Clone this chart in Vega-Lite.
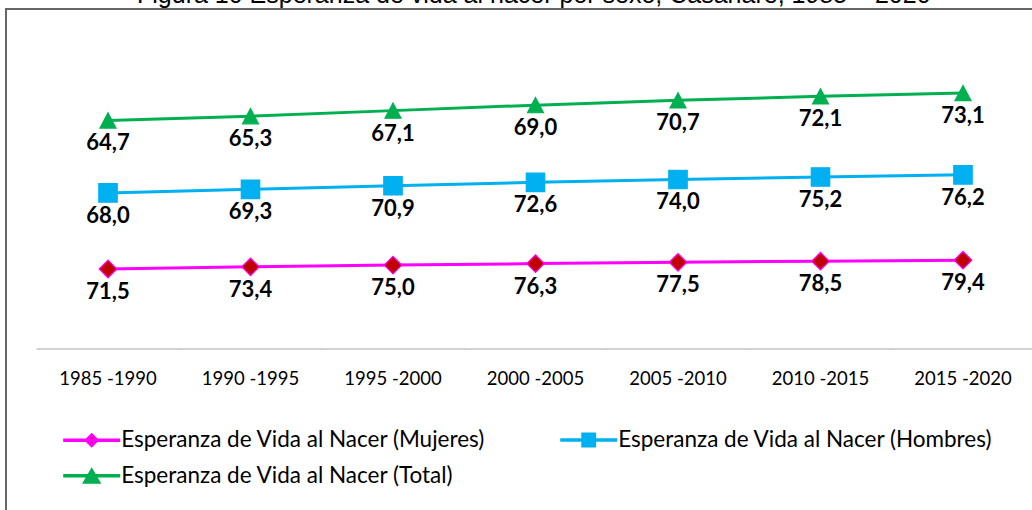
{
  "$schema": "https://vega.github.io/schema/vega-lite/v6.json",
  "autosize": {"type": "none"},
  "padding": {"left": 6, "top": 9, "right": 0, "bottom": 0},
  "width": 1059,
  "height": 521,
  "background": "white",
  "config": {
    "view": {"stroke": "#666666", "strokeWidth": 2},
    "locale": {"number": {"decimal": ",", "thousands": ".", "grouping": [3], "currency": ["$", ""]}}
  },
  "title": {
    "text": "Figura 10 Esperanza de vida al nacer por sexo, Casanare, 1985 – 2020",
    "font": "Liberation Sans",
    "fontSize": 25,
    "fontWeight": "normal",
    "color": "#000000",
    "anchor": "start",
    "frame": "group",
    "dx": 131,
    "dy": 19,
    "offset": 0,
    "baseline": "alphabetic"
  },
  "data": {
    "values": [
      {"periodo": "1985 -1990", "serie": "Esperanza de Vida al Nacer (Mujeres)", "orden": 1, "valor": 71.5},
      {"periodo": "1990 -1995", "serie": "Esperanza de Vida al Nacer (Mujeres)", "orden": 1, "valor": 73.4},
      {"periodo": "1995 -2000", "serie": "Esperanza de Vida al Nacer (Mujeres)", "orden": 1, "valor": 75.0},
      {"periodo": "2000 -2005", "serie": "Esperanza de Vida al Nacer (Mujeres)", "orden": 1, "valor": 76.3},
      {"periodo": "2005 -2010", "serie": "Esperanza de Vida al Nacer (Mujeres)", "orden": 1, "valor": 77.5},
      {"periodo": "2010 -2015", "serie": "Esperanza de Vida al Nacer (Mujeres)", "orden": 1, "valor": 78.5},
      {"periodo": "2015 -2020", "serie": "Esperanza de Vida al Nacer (Mujeres)", "orden": 1, "valor": 79.4},
      {"periodo": "1985 -1990", "serie": "Esperanza de Vida al Nacer (Hombres)", "orden": 2, "valor": 68.0},
      {"periodo": "1990 -1995", "serie": "Esperanza de Vida al Nacer (Hombres)", "orden": 2, "valor": 69.3},
      {"periodo": "1995 -2000", "serie": "Esperanza de Vida al Nacer (Hombres)", "orden": 2, "valor": 70.9},
      {"periodo": "2000 -2005", "serie": "Esperanza de Vida al Nacer (Hombres)", "orden": 2, "valor": 72.6},
      {"periodo": "2005 -2010", "serie": "Esperanza de Vida al Nacer (Hombres)", "orden": 2, "valor": 74.0},
      {"periodo": "2010 -2015", "serie": "Esperanza de Vida al Nacer (Hombres)", "orden": 2, "valor": 75.2},
      {"periodo": "2015 -2020", "serie": "Esperanza de Vida al Nacer (Hombres)", "orden": 2, "valor": 76.2},
      {"periodo": "1985 -1990", "serie": "Esperanza de Vida al Nacer (Total)", "orden": 3, "valor": 64.7},
      {"periodo": "1990 -1995", "serie": "Esperanza de Vida al Nacer (Total)", "orden": 3, "valor": 65.3},
      {"periodo": "1995 -2000", "serie": "Esperanza de Vida al Nacer (Total)", "orden": 3, "valor": 67.1},
      {"periodo": "2000 -2005", "serie": "Esperanza de Vida al Nacer (Total)", "orden": 3, "valor": 69.0},
      {"periodo": "2005 -2010", "serie": "Esperanza de Vida al Nacer (Total)", "orden": 3, "valor": 70.7},
      {"periodo": "2010 -2015", "serie": "Esperanza de Vida al Nacer (Total)", "orden": 3, "valor": 72.1},
      {"periodo": "2015 -2020", "serie": "Esperanza de Vida al Nacer (Total)", "orden": 3, "valor": 73.1}
    ]
  },
  "transform": [
    {"stack": "valor", "groupby": ["periodo"], "sort": [{"field": "orden", "order": "ascending"}], "as": ["y0", "y1"]}
  ],
  "encoding": {
    "x": {
      "field": "periodo",
      "type": "nominal",
      "sort": null,
      "scale": {
        "type": "band",
        "domain": ["1985 -1990", "1990 -1995", "1995 -2000", "2000 -2005", "2005 -2010", "2010 -2015", "2015 -2020"],
        "paddingInner": 0,
        "paddingOuter": 0.2158
      },
      "axis": {
        "orient": "bottom",
        "offset": -181,
        "domain": false,
        "ticks": false,
        "grid": false,
        "title": null,
        "labelAngle": 0,
        "labelPadding": 20,
        "labelFont": "Lato",
        "labelFontSize": 18.5,
        "labelColor": "#000000"
      }
    },
    "y": {
      "field": "y1",
      "type": "quantitative",
      "scale": {"domain": [-161.7, 303.8], "nice": false, "zero": false},
      "axis": null
    }
  },
  "layer": [
    {
      "transform": [{"filter": "datum.orden == 1"}],
      "mark": {"type": "tick", "orient": "horizontal", "size": 143, "thickness": 1, "color": "#A6A6A6", "opacity": 1},
      "encoding": {
        "y": {"datum": 0, "type": "quantitative"}
      }
    },
    {
      "mark": {"type": "line", "strokeWidth": 3},
      "encoding": {
        "color": {
          "field": "serie",
          "type": "nominal",
          "scale": {
            "domain": ["Esperanza de Vida al Nacer (Mujeres)", "Esperanza de Vida al Nacer (Hombres)", "Esperanza de Vida al Nacer (Total)"],
            "range": ["#FF00FF", "#00B0F0", "#00B050"]
          },
          "legend": {
            "title": null,
            "orient": "none",
            "direction": "horizontal",
            "legendX": 73.2,
            "legendY": 418.2,
            "columns": 2,
            "padding": 0,
            "symbolSize": 467,
            "symbolStrokeWidth": 3,
            "labelFont": "Lato",
            "labelFontSize": 22.5,
            "labelColor": "#000000",
            "labelOffset": 17,
            "labelLimit": 0,
            "rowPadding": 11,
            "columnPadding": 69,
            "encode": {
              "symbols": {
                "update": {
                  "shape": {"signal": "indexof(datum.value, 'Mujeres') >= 0 ? 'M-2.5,-0.02L2.5,-0.02L2.5,0.02L-2.5,0.02ZM0,-0.5L0.5,0L0,0.5L-0.5,0Z' : indexof(datum.value, 'Hombres') >= 0 ? 'M-2.5,-0.02L2.5,-0.02L2.5,0.02L-2.5,0.02ZM-0.55,-0.55L0.55,-0.55L0.55,0.55L-0.55,0.55Z' : 'M-2.5,-0.02L2.5,-0.02L2.5,0.02L-2.5,0.02ZM0,-0.5L0.65,0.6L-0.65,0.6Z'"},
                  "fill": {"signal": "indexof(datum.value, 'Mujeres') >= 0 ? '#C00000' : indexof(datum.value, 'Hombres') >= 0 ? '#00B0F0' : '#00B050'"},
                  "stroke": {"signal": "indexof(datum.value, 'Mujeres') >= 0 ? '#FF00FF' : indexof(datum.value, 'Hombres') >= 0 ? '#00B0F0' : '#00B050'"},
                  "strokeWidth": {"value": 3},
                  "fillOpacity": {"value": 1},
                  "strokeOpacity": {"value": 1},
                  "opacity": {"value": 1}
                }
              }
            }
          }
        }
      }
    },
    {
      "transform": [{"filter": "datum.orden == 1"}],
      "mark": {"type": "point", "shape": "diamond", "filled": true, "fill": "#C00000", "stroke": "#FF00FF", "strokeWidth": 1.2, "size": 310, "opacity": 1}
    },
    {
      "transform": [{"filter": "datum.orden == 2"}],
      "mark": {"type": "point", "shape": "square", "filled": true, "fill": "#00B0F0", "stroke": "#00B0F0", "strokeWidth": 1.2, "size": 340, "opacity": 1}
    },
    {
      "transform": [{"filter": "datum.orden == 3"}],
      "mark": {"type": "point", "shape": "M0,-0.95L1,0.95L-1,0.95Z", "filled": true, "fill": "#00B050", "stroke": "#00B050", "strokeWidth": 1.2, "size": 256, "opacity": 1}
    },
    {
      "mark": {"type": "text", "font": "Lato", "fontWeight": "bold", "fontSize": 22, "dy": 23, "baseline": "middle", "align": "center", "color": "#000000"},
      "encoding": {
        "text": {"field": "valor", "type": "quantitative", "format": ".1f"}
      }
    }
  ]
}
